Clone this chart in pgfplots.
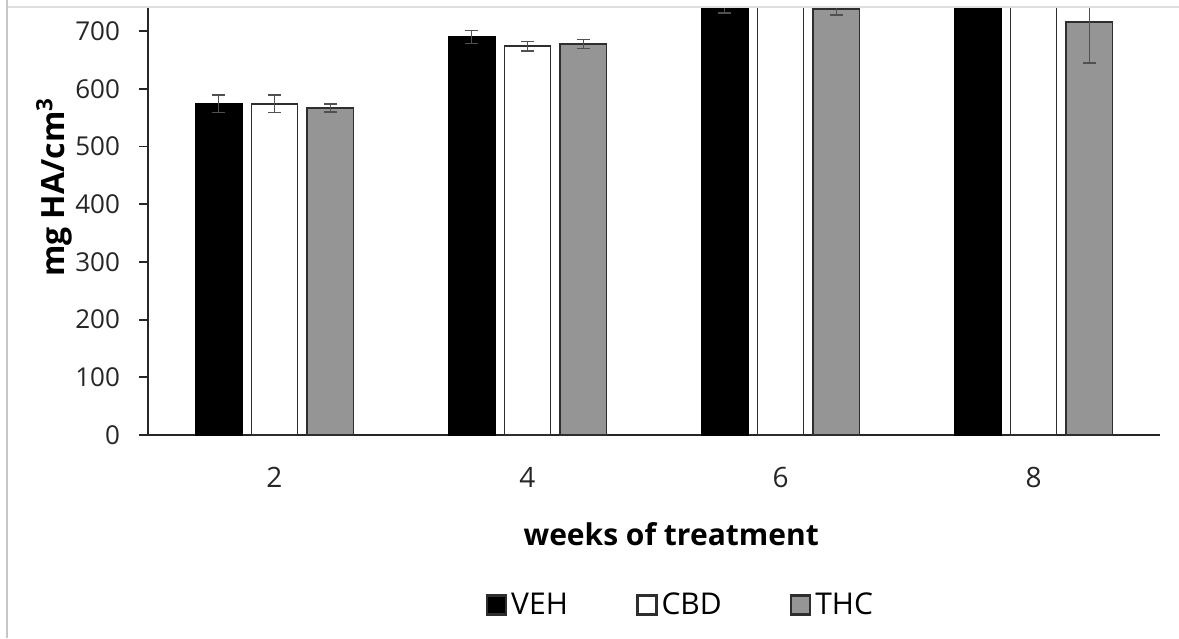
\documentclass[border=0pt]{standalone}
\usepackage{fontspec}
\setmainfont{Open Sans}
\usepackage{pgfplots}
\usepackage{pgfplotstable}
\pgfplotsset{compat=1.18}
\definecolor{thc}{HTML}{959595}
\definecolor{edge}{HTML}{2E2E2E}
\definecolor{errc}{HTML}{505050}

% x = category index (0:2 wk, 1:4 wk, 2:6 wk, 3:8 wk) plus bar offset
\pgfplotstableread{
x y e
-0.221 574 15
0.779 690 11
1.779 760 28
2.779 800 20
}\veh
\pgfplotstableread{
x y e
0 574 15
1 674 8
2 765 20
3 790 20
}\cbd
\pgfplotstableread{
x y e
0.221 567 7
1.221 678 8
2.221 738 10
3.221 716 71
}\thc

\begin{document}
\begin{tikzpicture}
\useasboundingbox (0,0) rectangle (589.5pt,319pt);
\begin{axis}[
  at={(74pt,101.5pt)}, anchor=south west,
  scale only axis, width=506pt, height=214pt,
  axis lines=left, axis line style={-, line width=0.9pt, color=black!85},
  ymin=0, ymax=742, xmin=-0.5, xmax=3.5,
  ytick={0,100,...,700},
  xtick={0,1,2,3}, xticklabels={2,4,6,8},
  major x tick style={draw=none},
  ytick style={line width=0.9pt, color=black!85},
  tick align=outside, major tick length=4.5pt,
  tick label style={font=\fontsize{13}{15}\selectfont, text=black!85},
  yticklabel style={xshift=-6pt},
  xticklabel style={yshift=-8pt, font=\fontsize{14}{16}\selectfont},
  /pgf/number format/assume math mode=true,
  xlabel={weeks of treatment},
  ylabel={mg HA/cm\textsuperscript{3}},
  xlabel style={at={(axis description cs:0.517,0)}, anchor=base, yshift=-55pt, font=\fontsize{15}{17}\selectfont\bfseries},
  ylabel style={at={(axis description cs:0,0.579)}, anchor=base, yshift=41.5pt, font=\fontsize{16}{18}\selectfont\bfseries},
  legend columns=3,
  legend style={draw=none, at={(0.527,-0.397)}, anchor=center, font=\fontsize{15}{17}\selectfont,
    /tikz/every even column/.append style={column sep=32pt}},
  mybar/.style={ybar, bar width=0.182, bar shift=0, draw=edge, line width=0.9pt,
    /pgfplots/error bars/y dir=both, /pgfplots/error bars/y explicit,
    /pgfplots/error bars/error bar style={color=errc, line width=0.8pt},
    /pgfplots/error bars/error mark options={rotate=90, mark size=3.2pt, color=errc, line width=0.8pt}},
  legend image code/.code={\draw[#1, draw=edge, line width=1.3pt] (0.5pt,-4.75pt) rectangle (10pt,4.75pt);},
]
\addplot[mybar, fill=black, draw=black] table[x=x, y=y, y error=e] {\veh};
\addlegendentry{VEH}
\addplot[mybar, fill=white] table[x=x, y=y, y error=e] {\cbd};
\addlegendentry{CBD}
\addplot[mybar, fill=thc] table[x=x, y=y, y error=e] {\thc};
\addlegendentry{THC}
\end{axis}
\draw[gray!45, line width=1pt] (3.5pt,0) -- (3.5pt,319pt);
\draw[gray!25, line width=1pt] (4pt,315.3pt) -- (589.5pt,315.3pt);
\end{tikzpicture}
\end{document}
